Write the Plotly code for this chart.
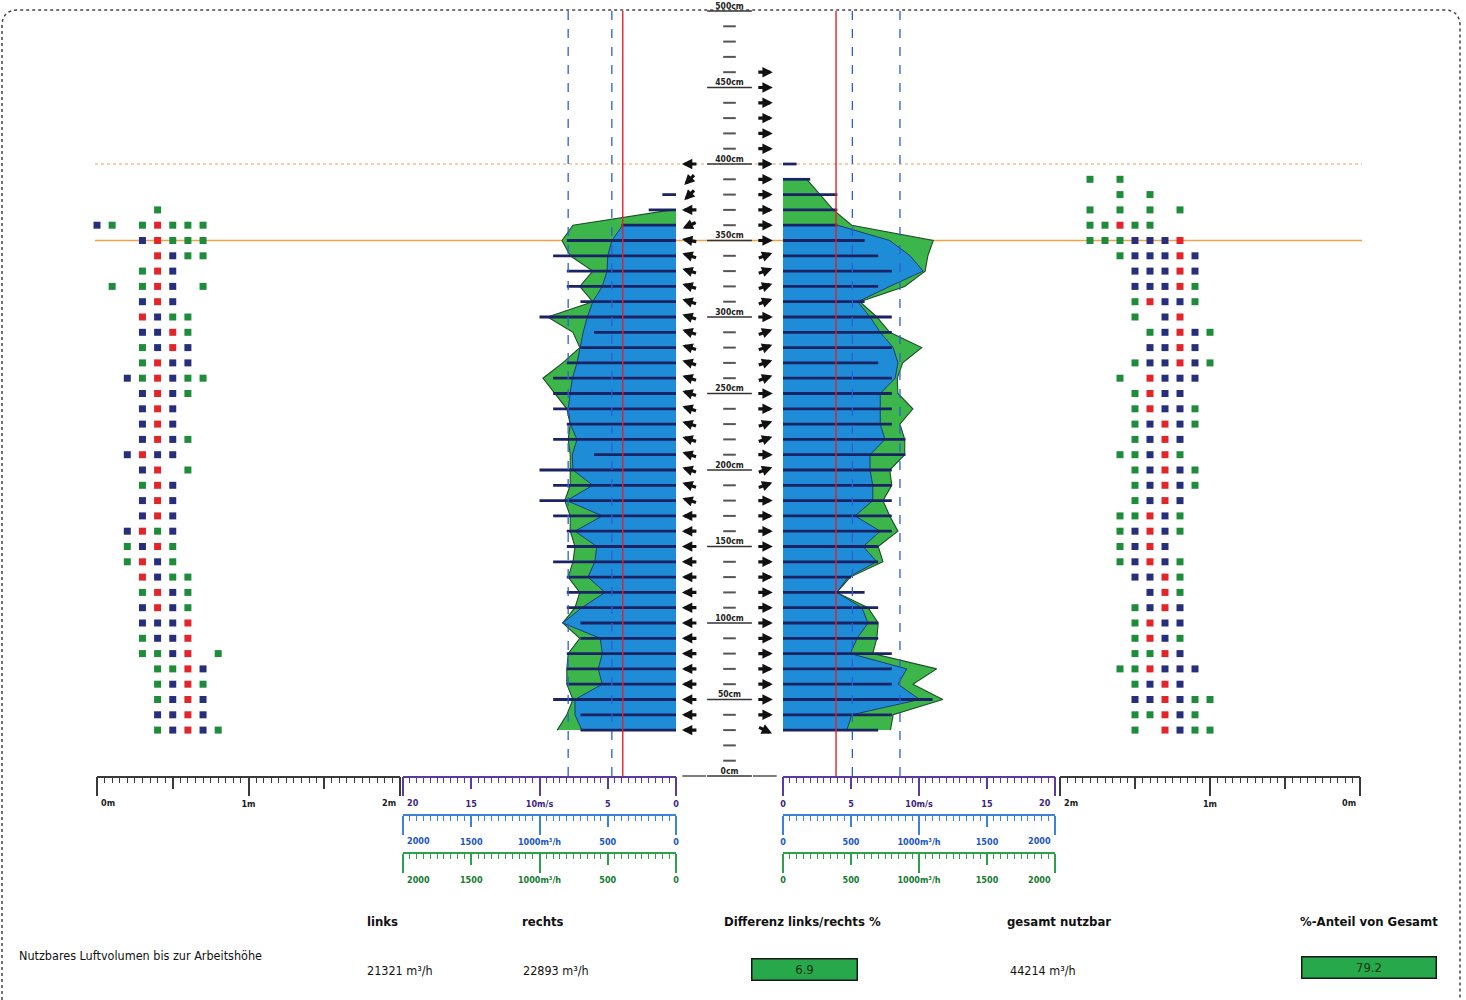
import math
import plotly.graph_objects as go

FIG_W, FIG_H = 1466, 1000

# ---------------- data ----------------
height_range_cm = [0, 500]

# left centre panel (air flow leaving to the left)
left_green_h = [30, 40, 50, 60, 70, 80, 90, 100, 110, 120, 130, 140, 150, 160, 170, 180, 190, 200,
                210, 220, 230, 240, 250, 260, 270, 280, 290, 300, 310, 320, 330, 340, 350, 360, 370]
left_green_m3h = [870, 800, 755, 800, 800, 790, 705, 830, 740, 705, 790, 755, 740, 775, 775, 815, 775, 775,
                  775, 790, 775, 800, 885, 975, 830, 705, 755, 940, 610, 705, 610, 775, 835, 755, 30]
left_blue_h = [30, 40, 50, 60, 70, 80, 90, 100, 110, 120, 130, 140, 150, 160, 170, 180, 190, 200,
               210, 220, 230, 240, 250, 260, 270, 280, 290, 300, 310, 320, 330, 340, 350, 360]
left_blue_m3h = [690, 740, 740, 540, 570, 540, 555, 830, 690, 520, 645, 595, 580, 740, 540, 800, 610, 755,
                 760, 725, 775, 790, 775, 760, 725, 705, 680, 650, 610, 540, 505, 500, 470, 390]
left_speed_h = [30, 40, 50, 60, 70, 80, 90, 100, 110, 120, 130, 140, 150, 160, 170, 180, 190, 200,
                210, 220, 230, 240, 250, 260, 270, 280, 290, 300, 310, 320, 330, 340, 350, 360, 370, 380]
left_speed_ms = [7, 7, 9, 8, 8, 8, 7, 7, 8, 8, 8, 9, 8, 8, 9, 10, 9, 10,
                 6, 9, 8, 9, 9, 9, 8, 7, 6, 10, 7, 8, 8, 9, 8, 4, 2, 1]

# right centre panel (air flow leaving to the right)
right_green_h = [30, 40, 50, 60, 70, 80, 90, 100, 110, 120, 130, 140, 150, 160, 170, 180, 190, 200,
                 210, 220, 230, 240, 250, 260, 270, 280, 290, 300, 310, 320, 330, 340, 350, 360, 370, 380, 390]
right_green_m3h = [790, 810, 1175, 955, 1130, 660, 690, 700, 625, 395, 495, 735, 700, 845, 785, 735, 800, 785,
                   895, 895, 860, 955, 845, 840, 880, 1020, 785, 690, 565, 895, 1045, 1065, 1105, 505, 370, 270, 175]
right_blue_h = [30, 40, 50, 60, 70, 80, 90, 100, 110, 120, 130, 140, 150, 160, 170, 180, 190, 200,
                210, 220, 230, 240, 250, 260, 270, 280, 290, 300, 310, 320, 330, 340, 350, 360]
right_blue_m3h = [470, 505, 1005, 845, 910, 495, 545, 625, 580, 395, 480, 690, 590, 715, 530, 660, 660, 640,
                  640, 750, 715, 715, 715, 825, 845, 810, 715, 640, 550, 785, 1030, 935, 785, 400]
right_speed_h = [30, 40, 50, 60, 70, 80, 90, 100, 110, 120, 130, 140, 150, 160, 170, 180, 190, 200,
                 210, 220, 230, 240, 250, 260, 270, 280, 290, 300, 310, 320, 330, 340, 350, 360, 370, 380, 390, 400]
right_speed_ms = [7, 8, 11, 8, 8, 8, 7, 7, 7, 6, 5, 7, 7, 8, 8, 8, 8, 8,
                  9, 9, 8, 8, 8, 8, 7, 8, 8, 8, 6, 7, 8, 7, 6, 4, 4, 4, 2, 1]

# reference lines (m/s)
left_dashed_ms = [7.9, 4.7]
right_dashed_ms = [5.1, 8.6]
red_limit_ms = 3.9

# horizontal references (cm)
work_height_cm = 350
ceiling_cm = 400

# flow direction arrows in the centre column (angle in degrees, 180 = left, 0 = right)
left_arrow_h = [30, 40, 50, 60, 70, 80, 90, 100, 110, 120, 130, 140, 150, 160, 170, 180, 190, 200, 210,
                220, 230, 240, 250, 260, 270, 280, 290, 300, 310, 320, 330, 340, 350, 360, 370, 380, 390, 400]
left_arrow_deg = [180, 180, 180, 180, 180, 180, 180, 180, 180, 180, 180, 180, 180, 180, 180, 162, 162, 162, 162,
                  162, 162, 162, 162, 162, 162, 162, 162, 162, 162, 162, 162, 162, 170, 205, 180, 225, 225, 180]
right_arrow_h = [30, 40, 50, 60, 70, 80, 90, 100, 110, 120, 130, 140, 150, 160, 170, 180, 190, 200, 210, 220,
                 230, 240, 250, 260, 270, 280, 290, 300, 310, 320, 330, 340, 350, 360, 370, 380, 390, 400,
                 410, 420, 430, 440, 450, 460]
right_arrow_deg = [-25, 0, 0, 0, 0, 0, 0, 0, 0, 0, 0, 0, 0, 0, 0, 0, 20, 20, 0, 20,
                   20, 0, 0, 20, 20, 20, 20, 0, 20, 20, 20, 20, 0, 0, 0, 0, 0, 0,
                   0, 0, 0, 0, 0, 0]

# centre height scale
scale_dash_cm = [10, 20, 30, 40, 60, 70, 80, 90, 110, 120, 130, 140, 160, 170, 180, 190, 210, 220, 230, 240,
                 260, 270, 280, 290, 310, 320, 330, 340, 360, 370, 380, 390, 410, 420, 430, 440, 460, 470, 480, 490]
scale_label_cm = [0, 50, 100, 150, 200, 250, 300, 350, 400, 450, 500]
scale_label_text = ["0cm", "50cm", "100cm", "150cm", "200cm", "250cm", "300cm", "350cm", "400cm", "450cm", "500cm"]

# measurement grid squares (rows top -> bottom, columns = positions in m)
left_sq_h = [370, 360, 350, 340, 330, 320, 310, 300, 290, 280, 270, 260, 250, 240, 230, 220, 210, 200,
             190, 180, 170, 160, 150, 140, 130, 120, 110, 100, 90, 80, 70, 60, 50, 40, 30]
left_sq_pos_m = [0.0, 0.1, 0.2, 0.3, 0.4, 0.5, 0.6, 0.7, 0.8]
left_sq_rows = ["....g....", "bg.grggg.", "...brggg.", "....rbgg.", "...grb...", ".g.grb.g.", "...brb...",
                "...rbgg..", "...bbrg..", "...gbrb..", "...grbb..", "..bgrbgg.", "...brbg..", "...brb...",
                "...brb...", "...brbg..", "..brbb...", "...br.g..", "...grb...", "...brb...", "...brb...",
                "..brgb...", "..gbrg...", "..grbg...", "...rbgg..", "...grbg..", "...brbg..", "...bbbr..",
                "...gbbr..", "...ggbr.g", "....ggrb.", "....gbrg.", "....gbrb.", "....bbrb.", "....gbrbg"]
right_sq_h = [390, 380, 370, 360, 350, 340, 330, 320, 310, 300, 290, 280, 270, 260, 250, 240, 230, 220, 210,
              200, 190, 180, 170, 160, 150, 140, 130, 120, 110, 100, 90, 80, 70, 60, 50, 40, 30]
right_sq_pos_m = [1.8, 1.7, 1.6, 1.5, 1.4, 1.3, 1.2, 1.1, 1.0]
right_sq_rows = ["g.g......", "..g.g....", "g.g.g.g..", "ggrgg....", "gggbbbr..", "..gbbbrb.", "...bbbrb.",
                 "...bbbrg.", "...grbbg.", "...g.br..", "....gbrbg", "....bbrb.", "...gbbrbg", "..g.rbbb.",
                 "...grbb..", "...grbbg.", "...gbrbg.", "...gbrb..", "..ggbrg..", "...gbrbg.", "...gbrbg.",
                 "...gbrb..", "..ggrbg..", "..gbrbg..", "..gbrb...", "..gbrbg..", "...bbrg..", "....brg..",
                 "...gbrb..", "...grbb..", "...grbg..", "...ggrb..", "..ggrbbb.", "...gbrb..", "...bbrbgg",
                 "...ggrbg.", "...g.rbgg"]

# summary table
row_label = "Nutzbares Luftvolumen bis zur Arbeitshöhe"
summary_headers = ["links", "rechts", "Differenz links/rechts %", "gesamt nutzbar", "%-Anteil von Gesamt"]
links_m3h = 21321
rechts_m3h = 22893
diff_pct = 6.9
total_m3h = 44214
share_pct = 79.2

# ---------------- styling ----------------
SQ_COL = {"g": "#1f8c3b", "b": "#272f7c", "r": "#e2252b"}
TICK_FONT = "DejaVu Sans Condensed"
TXT_FONT = "Liberation Sans Narrow, Arial Narrow, DejaVu Sans Condensed, sans-serif"
GREEN_FILL = "#3cb54b"
BLUE_FILL = "#1f8cd8"
NAVY = "#1c2364"
PURPLE = "#5d3b9e"
RULER_BLUE = "#3b82d8"
RULER_GREEN = "#2e9f4a"
M_LABEL = "#1a1a1a"
V_LABEL = "#3e2480"
B_LABEL = "#1a56c4"
G_LABEL = "#137a2f"


def px_dom(a, b):
    return [a / FIG_W, b / FIG_W]


def py_pos(py):
    return 1 - py / FIG_H


Y_DOMAIN = [py_pos(776), py_pos(11)]


def axis_a(rng, dt, mdt, color, label_color, alias, fmt, anchor="y", position=None,
           overlaying=None, domain=None):
    d = dict(range=rng, showgrid=False, zeroline=False, showline=True, linecolor=color, linewidth=1.5,
             ticks="outside", ticklen=11, tickwidth=1.5, tickcolor=color, tickmode="linear", tick0=0,
             dtick=dt, labelalias=alias, ticklabelstandoff=7,
             tickfont=dict(family=TICK_FONT, size=9, color=label_color, weight="bold"),
             minor=dict(ticks="outside", ticklen=5, tickwidth=1, tickcolor=color, dtick=mdt, tick0=0,
                        showgrid=False),
             fixedrange=True, anchor=anchor)
    if fmt:
        d["tickformat"] = fmt
    if position is not None:
        d["position"] = position
    if overlaying:
        d["overlaying"] = overlaying
    if domain:
        d["domain"] = domain
    return d


def axis_b(rng, dt, color, anchor="y", position=None, overlaying=None, domain=None):
    d = dict(range=rng, showgrid=False, zeroline=False, showline=False, ticks="outside", ticklen=19,
             tickwidth=1.5, tickcolor=color, tickmode="linear", tick0=0, dtick=dt, showticklabels=False,
             fixedrange=True, anchor=anchor)
    if position is not None:
        d["position"] = position
    if overlaying:
        d["overlaying"] = overlaying
    if domain:
        d["domain"] = domain
    return d


fig = go.Figure()


def dummy(xaxis, xval):
    fig.add_trace(go.Scatter(x=[xval], y=[0], xaxis=xaxis, yaxis="y", mode="markers",
                             marker=dict(opacity=0, size=1), hoverinfo="skip", showlegend=False))


def squares(rows, heights, positions, xaxis):
    xs, ys, cs = [], [], []
    for h, row in zip(heights, rows):
        for k, ch in enumerate(row):
            if ch in SQ_COL:
                xs.append(positions[k])
                ys.append(h)
                cs.append(SQ_COL[ch])
    fig.add_trace(go.Scatter(x=xs, y=ys, xaxis=xaxis, yaxis="y", mode="markers", cliponaxis=False,
                             marker=dict(symbol="square", size=7, color=cs, line=dict(width=0)),
                             hoverinfo="skip", showlegend=False))


# left metre ruler + squares
squares(left_sq_rows, left_sq_h, left_sq_pos_m, "x")
dummy("x2", 0)

# left centre: base (velocity long ticks), green, blue, velocity
dummy("x3", 0)
fig.add_trace(go.Scatter(x=left_green_m3h, y=left_green_h, xaxis="x4", yaxis="y", mode="lines",
                         fill="tozerox", fillcolor=GREEN_FILL, line=dict(color="#1d4f28", width=1.1),
                         hoverinfo="skip", showlegend=False))
dummy("x5", 0)
fig.add_trace(go.Scatter(x=left_blue_m3h, y=left_blue_h, xaxis="x6", yaxis="y", mode="lines",
                         fill="tozerox", fillcolor=BLUE_FILL, line=dict(color="#1b3d73", width=1),
                         hoverinfo="skip", showlegend=False))
dummy("x7", 0)
fig.add_trace(go.Bar(x=left_speed_ms, y=left_speed_h, orientation="h", xaxis="x8", yaxis="y", width=1.8,
                     marker=dict(color=NAVY, line=dict(width=0)), hoverinfo="skip", showlegend=False))
for v in left_dashed_ms:
    fig.add_trace(go.Scatter(x=[v, v], y=height_range_cm, xaxis="x8", yaxis="y", mode="lines",
                             line=dict(color="#2d5fd4", width=1.3, dash="dash"), hoverinfo="skip",
                             showlegend=False))
fig.add_trace(go.Scatter(x=[red_limit_ms, red_limit_ms], y=height_range_cm, xaxis="x8", yaxis="y",
                         mode="lines", line=dict(color="#e4212b", width=1.4), hoverinfo="skip",
                         showlegend=False))

# right centre
dummy("x9", 0)
fig.add_trace(go.Scatter(x=right_green_m3h, y=right_green_h, xaxis="x10", yaxis="y", mode="lines",
                         fill="tozerox", fillcolor=GREEN_FILL, line=dict(color="#1d4f28", width=1.1),
                         hoverinfo="skip", showlegend=False))
dummy("x11", 0)
fig.add_trace(go.Scatter(x=right_blue_m3h, y=right_blue_h, xaxis="x12", yaxis="y", mode="lines",
                         fill="tozerox", fillcolor=BLUE_FILL, line=dict(color="#1b3d73", width=1),
                         hoverinfo="skip", showlegend=False))
dummy("x13", 0)
fig.add_trace(go.Bar(x=right_speed_ms, y=right_speed_h, orientation="h", xaxis="x14", yaxis="y", width=1.8,
                     marker=dict(color=NAVY, line=dict(width=0)), hoverinfo="skip", showlegend=False))
for v in right_dashed_ms:
    fig.add_trace(go.Scatter(x=[v, v], y=height_range_cm, xaxis="x14", yaxis="y", mode="lines",
                             line=dict(color="#2d5fd4", width=1.3, dash="dash"), hoverinfo="skip",
                             showlegend=False))
fig.add_trace(go.Scatter(x=[red_limit_ms, red_limit_ms], y=height_range_cm, xaxis="x14", yaxis="y",
                         mode="lines", line=dict(color="#e4212b", width=1.4), hoverinfo="skip",
                         showlegend=False))

# right metre ruler + squares
squares(right_sq_rows, right_sq_h, right_sq_pos_m, "x15")
dummy("x16", 0)

# centre column: height scale
fig.add_trace(go.Scatter(x=[0.5] * len(scale_dash_cm), y=scale_dash_cm, xaxis="x17", yaxis="y",
                         mode="markers", cliponaxis=False,
                         marker=dict(symbol="line-ew", size=9, line=dict(color="#555", width=2)),
                         hoverinfo="skip", showlegend=False))
fig.add_trace(go.Scatter(x=[0.5] * len(scale_label_cm), y=scale_label_cm, xaxis="x17", yaxis="y",
                         mode="markers", cliponaxis=False,
                         marker=dict(symbol="line-ew", size=32, line=dict(color="#333", width=1.5)),
                         hoverinfo="skip", showlegend=False))
fig.add_trace(go.Scatter(x=[0.5] * len(scale_label_cm), y=scale_label_cm, xaxis="x17", yaxis="y",
                         mode="text", cliponaxis=False, text=scale_label_text,
                         textposition="top center",
                         textfont=dict(family=TICK_FONT, size=8.5, color="#222", weight="bold"),
                         hoverinfo="skip", showlegend=False))
fig.add_trace(go.Scatter(x=[0.17, 0.83], y=[scale_label_cm[0]] * 2, xaxis="x17", yaxis="y",
                         mode="markers", cliponaxis=False,
                         marker=dict(symbol="line-ew", size=17, line=dict(color="#555", width=1.5)),
                         hoverinfo="skip", showlegend=False))

# arrows
annotations = []
CENTER_PX = 783 - 676
PX_PER_CM = 765 / 500.0
ARROW_LEN = 16


def add_arrows(heights, angles, cx):
    for h, a in zip(heights, angles):
        r = math.radians(a)
        dx, dy = math.cos(r), math.sin(r)
        tip_x = cx + (ARROW_LEN / 2) * dx / CENTER_PX
        tip_y = h + (ARROW_LEN / 2) * dy / PX_PER_CM
        annotations.append(dict(x=tip_x, y=tip_y, xref="x17", yref="y", ax=-ARROW_LEN * dx,
                                ay=ARROW_LEN * dy, axref="pixel", ayref="pixel", text="",
                                showarrow=True, arrowhead=2, arrowsize=0.65, arrowwidth=3.2,
                                arrowcolor="#111", standoff=0, startstandoff=0))


add_arrows(left_arrow_h, left_arrow_deg, 0.13)
add_arrows(right_arrow_h, right_arrow_deg, 0.83)

# end-of-ruler labels (placed beside the end ticks so neighbouring rulers do not collide)
LBL_Y_TOP, LBL_Y_BLUE, LBL_Y_GREEN = py_pos(803), py_pos(841), py_pos(880)
end_labels = [
    ("x", 0, "0m", "left", LBL_Y_TOP, M_LABEL),
    ("x", 2, "2m", "right", LBL_Y_TOP, M_LABEL),
    ("x8", 20, "20", "left", LBL_Y_TOP, V_LABEL),
    ("x6", 2000, "2000", "left", LBL_Y_BLUE, B_LABEL),
    ("x4", 2000, "2000", "left", LBL_Y_GREEN, G_LABEL),
    ("x14", 20, "20", "right", LBL_Y_TOP, V_LABEL),
    ("x12", 2000, "2000", "right", LBL_Y_BLUE, B_LABEL),
    ("x10", 2000, "2000", "right", LBL_Y_GREEN, G_LABEL),
    ("x15", 2, "2m", "left", LBL_Y_TOP, M_LABEL),
    ("x15", 0, "0m", "right", LBL_Y_TOP, M_LABEL),
]
for ax_id, xv, txt, anch, yv, col in end_labels:
    annotations.append(dict(x=xv, y=yv, xref=ax_id, yref="paper", text=txt, showarrow=False,
                            xanchor=anch, yanchor="middle", xshift=(2 if anch == "left" else -2),
                            font=dict(family=TICK_FONT, size=9, color=col, weight="bold")))

# summary table
header_px = [382, 543, 803, 1059, 1369]
for txt, x in zip(summary_headers, header_px):
    annotations.append(dict(x=x / FIG_W, y=py_pos(921), xref="paper", yref="paper", text=txt,
                            showarrow=False, xanchor="center", yanchor="middle",
                            font=dict(family=TXT_FONT, size=13, color="#111", weight="bold")))
annotations.append(dict(x=17 / FIG_W, y=py_pos(955), xref="paper", yref="paper", text=row_label,
                        showarrow=False, xanchor="left", yanchor="middle",
                        font=dict(family=TXT_FONT, size=12.5, color="#111")))
plain_vals = [(f"{links_m3h} m³/h", 400), (f"{rechts_m3h} m³/h", 556), (f"{total_m3h} m³/h", 1043)]
for txt, x in plain_vals:
    annotations.append(dict(x=x / FIG_W, y=py_pos(970), xref="paper", yref="paper", text=txt,
                            showarrow=False, xanchor="center", yanchor="middle",
                            font=dict(family=TXT_FONT, size=12.5, color="#111")))
box_vals = [(f"{diff_pct}", 804, 969, 104), (f"{share_pct}", 1369, 967, 133)]
for txt, x, y, w in box_vals:
    annotations.append(dict(x=x / FIG_W, y=py_pos(y), xref="paper", yref="paper", text=txt,
                            showarrow=False, xanchor="center", yanchor="middle", width=w, height=20,
                            bgcolor="#27a84a", bordercolor="#1a1a1a", borderwidth=1.5, borderpad=0,
                            font=dict(family=TXT_FONT, size=13, color="#0e3514")))

# shapes
shapes = []
x_left, x_right = 95 / FIG_W, 1362 / FIG_W
shapes.append(dict(type="line", xref="paper", yref="y", x0=x_left, x1=x_right, y0=work_height_cm,
                   y1=work_height_cm, line=dict(color="#f0a24a", width=1.3), layer="below"))
shapes.append(dict(type="line", xref="paper", yref="y", x0=x_left, x1=x_right, y0=ceiling_cm,
                   y1=ceiling_cm, line=dict(color="#f3c48e", width=1.5, dash="dot"), layer="below"))
# dotted frame
fx0, fx1 = 2 / FIG_W, 1460 / FIG_W
fyt, fyb = py_pos(10), py_pos(1012)
rx, ry = 16 / FIG_W, 16 / FIG_H
frame_path = (f"M {fx0},{fyb} L {fx0},{fyt - ry} Q {fx0},{fyt} {fx0 + rx},{fyt} "
              f"L {fx1 - rx},{fyt} Q {fx1},{fyt} {fx1},{fyt - ry} L {fx1},{fyb}")
shapes.append(dict(type="path", xref="paper", yref="paper", path=frame_path,
                   line=dict(color="#444", width=1.5, dash="dot")))

# ---------------- axes ----------------
LEFT_M_DOM = px_dom(97, 400)
LEFT_C_DOM = px_dom(403, 676)
CENTER_DOM = px_dom(676, 783)
RIGHT_C_DOM = px_dom(783, 1055)
RIGHT_M_DOM = px_dom(1060, 1360)
POS_BLUE = py_pos(815)
POS_GREEN = py_pos(853)

HIDE = " "
left_m_alias = {"0": HIDE, "0.5": HIDE, "1": "1m", "1.5": HIDE, "2": HIDE}
right_m_alias = {"2": HIDE, "1.5": HIDE, "1": "1m", "0.5": HIDE, "0": HIDE}
v_alias = {"10": "10m/s", "20": HIDE}
q_alias = {"1000": "1000m³/h", "2000": HIDE}

layout_axes = dict(
    xaxis=axis_a([0, 2], 0.5, 0.05, "#3a3a3a", M_LABEL, left_m_alias, None, domain=LEFT_M_DOM),
    xaxis2=axis_b([0, 2], 1, "#3a3a3a", overlaying="x"),
    xaxis3=axis_b([20, 0], 10, PURPLE, domain=LEFT_C_DOM),
    xaxis4=axis_a([2000, 0], 500, 50, RULER_GREEN, G_LABEL, q_alias, "d", anchor="free",
                  position=POS_GREEN, overlaying="x3"),
    xaxis5=axis_b([2000, 0], 1000, RULER_GREEN, anchor="free", position=POS_GREEN, overlaying="x3"),
    xaxis6=axis_a([2000, 0], 500, 50, RULER_BLUE, B_LABEL, q_alias, "d", anchor="free",
                  position=POS_BLUE, overlaying="x3"),
    xaxis7=axis_b([2000, 0], 1000, RULER_BLUE, anchor="free", position=POS_BLUE, overlaying="x3"),
    xaxis8=axis_a([20, 0], 5, 0.5, PURPLE, V_LABEL, v_alias, "d", overlaying="x3"),
    xaxis9=axis_b([0, 20], 10, PURPLE, domain=RIGHT_C_DOM),
    xaxis10=axis_a([0, 2000], 500, 50, RULER_GREEN, G_LABEL, q_alias, "d", anchor="free",
                   position=POS_GREEN, overlaying="x9"),
    xaxis11=axis_b([0, 2000], 1000, RULER_GREEN, anchor="free", position=POS_GREEN, overlaying="x9"),
    xaxis12=axis_a([0, 2000], 500, 50, RULER_BLUE, B_LABEL, q_alias, "d", anchor="free",
                   position=POS_BLUE, overlaying="x9"),
    xaxis13=axis_b([0, 2000], 1000, RULER_BLUE, anchor="free", position=POS_BLUE, overlaying="x9"),
    xaxis14=axis_a([0, 20], 5, 0.5, PURPLE, V_LABEL, v_alias, "d", overlaying="x9"),
    xaxis15=axis_a([2, 0], 0.5, 0.05, "#3a3a3a", M_LABEL, right_m_alias, None, domain=RIGHT_M_DOM),
    xaxis16=axis_b([2, 0], 1, "#3a3a3a", overlaying="x15"),
    xaxis17=dict(domain=CENTER_DOM, range=[0, 1], visible=False, fixedrange=True, anchor="y"),
    yaxis=dict(domain=Y_DOMAIN, range=height_range_cm, visible=False, fixedrange=True, anchor="x"),
)

fig.update_layout(
    width=FIG_W, height=FIG_H, autosize=False,
    margin=dict(l=0, r=0, t=0, b=0, pad=0, autoexpand=False),
    paper_bgcolor="white", plot_bgcolor="rgba(0,0,0,0)",
    showlegend=False, barmode="overlay", hovermode=False,
    annotations=annotations, shapes=shapes,
    **layout_axes,
)

fig.write_html("out.html", include_plotlyjs=True, full_html=True,
               config={"displayModeBar": False},
               post_script="document.body.style.margin='0px';document.body.style.overflow='hidden';")
